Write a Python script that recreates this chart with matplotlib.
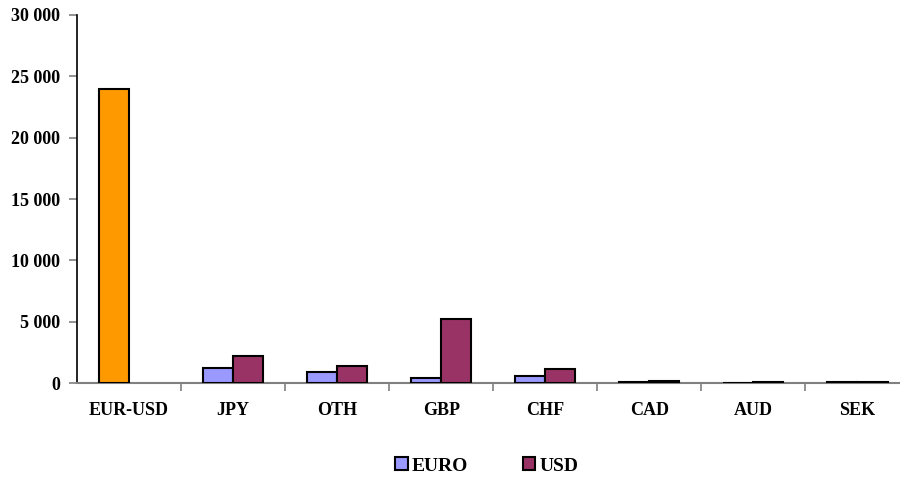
import numpy as np
import matplotlib
matplotlib.use("Agg")
import matplotlib.pyplot as plt
from matplotlib.patches import Patch
from matplotlib.ticker import FuncFormatter

categories = ["EUR-USD", "JPY", "OTH", "GBP", "CHF", "CAD", "AUD", "SEK"]
euro = [24000, 1250, 900, 375, 540, 60, 40, 80]
usd = [0, 2220, 1350, 5180, 1165, 200, 80, 60]

plt.rcParams['font.family'] = ['Liberation Serif', 'DejaVu Serif']
plt.rcParams['font.weight'] = 'bold'

fig = plt.figure(figsize=(9, 4.79), dpi=100)
ax = fig.add_axes([0.0856, 0.2004, 0.9144, 0.7683])

x = np.arange(len(categories))
w = 0.29
euro_colors = ['#FF9900'] + ['#9999FF'] * (len(categories) - 1)
ax.bar(x - w / 2, euro, w, color=euro_colors, edgecolor='black', linewidth=1.5, zorder=3)
usd_lw = [1.5 if v > 0 else 0 for v in usd]
ax.bar(x + w / 2, usd, w, color='#993366', edgecolor='black', linewidth=usd_lw, zorder=3)

ax.set_xlim(-0.5, 7.41)
ax.set_ylim(0, 30000)
ax.set_yticks(np.arange(0, 30001, 5000))
ax.yaxis.set_major_formatter(FuncFormatter(lambda v, p: f"{int(v):,}".replace(",", " ")))

ax.set_xticks(x)
ax.set_xticklabels(categories, fontsize=13, fontweight='bold')
ax.tick_params(axis='x', which='major', length=0, pad=14)
ax.set_xticks(np.arange(0.5, 7.5, 1), minor=True)
ax.tick_params(axis='x', which='minor', length=6, color='#808080', width=1.2)
ax.tick_params(axis='y', length=6, color='#808080', width=1.2, labelsize=13, pad=6)
for lab in ax.get_yticklabels():
    lab.set_fontweight('bold')

ax.spines['top'].set_visible(False)
ax.spines['right'].set_visible(False)
ax.spines['left'].set_color('black')
ax.spines['left'].set_linewidth(1.2)
ax.spines['bottom'].set_color('#808080')
ax.spines['bottom'].set_linewidth(1.5)

handles = [Patch(facecolor='#9999FF', edgecolor='black', linewidth=1.5),
           Patch(facecolor='#993366', edgecolor='black', linewidth=1.5)]
fig.legend(handles, ['EURO', 'USD'], loc='center', bbox_to_anchor=(0.541, 0.027),
           ncol=2, frameon=False, handlelength=0.65, handleheight=0.65,
           handletextpad=0.2, columnspacing=2.8, prop={'weight': 'bold', 'size': 14})

fig.savefig('out.png', dpi=100)
